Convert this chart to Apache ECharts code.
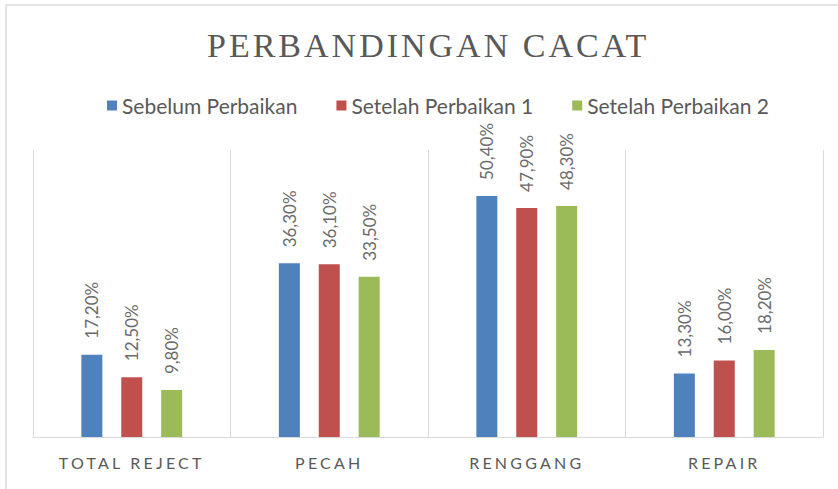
<!DOCTYPE html>
<html>
<head>
<meta charset="utf-8">
<script src="https://cdn.jsdelivr.net/npm/echarts@6/dist/echarts.min.js"></script>
<style>
  html, body { margin: 0; padding: 0; background: #fff; }
  #main { width: 838px; height: 489px; }
  /* spaced caps like the office chart */
  #main text[style*="Liberation Serif"] { letter-spacing: 3px; }
  #main text[style*="16px"][style*="Lato"] { letter-spacing: 3.2px; }
</style>
</head>
<body>
<div id="main"></div>
<script>
const categories = ['TOTAL REJECT', 'PECAH', 'RENGGANG', 'REPAIR']
const seriesNames = ['Sebelum Perbaikan', 'Setelah Perbaikan 1', 'Setelah Perbaikan 2']
const sebelum = [17.2, 36.3, 50.4, 13.3]
const setelah1 = [12.5, 36.1, 47.9, 16.0]
const setelah2 = [9.8, 33.5, 48.3, 18.2]
const colors = ['#4f81bd', '#c0504d', '#9bbb59']

const chart = echarts.init(document.getElementById('main'), null, { renderer: 'svg' })

function makeSeries (name, data, color) {
  return {
    name: name,
    type: 'bar',
    barWidth: 21,
    barGap: '90%',
    itemStyle: { color: color },
    label: {
      show: true,
      position: 'top',
      rotate: 90,
      align: 'left',
      verticalAlign: 'middle',
      distance: 16,
      color: '#6b6b6b',
      fontFamily: 'Lato',
      fontSize: 17,
      formatter: p => p.value.toFixed(2).replace('.', ',') + '%'
    },
    data: data
  }
}

chart.setOption({
  animation: false,
  graphic: [{
    type: 'rect',
    shape: { x: 6, y: 5, width: 900, height: 600 },
    style: { fill: 'none', stroke: '#e4e4e4', lineWidth: 2 },
    silent: true
  }],
  title: {
    text: 'PERBANDINGAN CACAT',
    left: 202,
    top: 23,
    textStyle: {
      fontFamily: 'Liberation Serif',
      fontWeight: 'normal',
      fontSize: 34,
      color: '#595959'
    }
  },
  legend: {
    data: seriesNames,
    top: 90,
    left: 102,
    itemWidth: 10,
    itemHeight: 10,
    itemGap: 39,
    icon: 'rect',
    textStyle: { fontFamily: 'Lato', fontSize: 21, color: '#595959' }
  },
  grid: { left: 33, right: 15, top: 150, bottom: 52 },
  xAxis: {
    type: 'category',
    data: categories,
    axisLine: { lineStyle: { color: '#d9d9d9', width: 1 } },
    axisTick: { show: false },
    splitLine: { show: true, lineStyle: { color: '#d9d9d9', width: 1 } },
    axisLabel: {
      fontFamily: 'Lato',
      fontSize: 16,
      color: '#595959',
      margin: 17
    }
  },
  yAxis: {
    type: 'value',
    min: 0,
    max: 60,
    show: false,
    splitLine: { show: false }
  },
  series: [
    makeSeries(seriesNames[0], sebelum, colors[0]),
    makeSeries(seriesNames[1], setelah1, colors[1]),
    makeSeries(seriesNames[2], setelah2, colors[2])
  ]
})
</script>
</body>
</html>
